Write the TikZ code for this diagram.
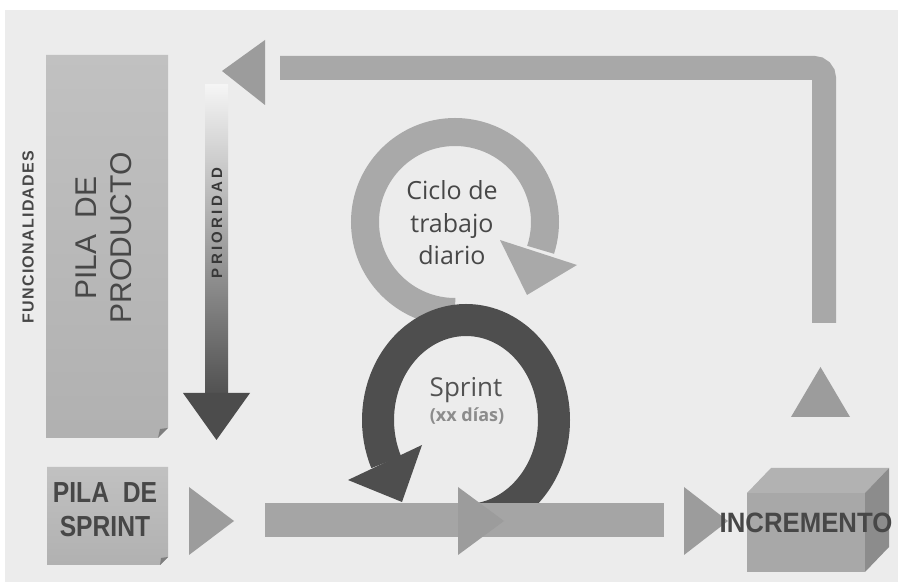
\documentclass[tikz,border=0pt]{standalone}
\usepackage{fontspec}
\setmainfont{Liberation Sans}
\newfontfamily\ringfont{Open Sans}
\usepackage{tikz}
\usetikzlibrary{positioning}

\definecolor{bgGray}{HTML}{ECECEC}
\definecolor{boxGray}{HTML}{BABABA}
\definecolor{foldGray}{HTML}{7E7E7E}
\definecolor{ringLight}{HTML}{A9A9A9}
\definecolor{ringDark}{HTML}{4E4E4E}
\definecolor{retGray}{HTML}{A8A8A8}
\definecolor{barGray}{HTML}{A5A5A5}
\definecolor{triGray}{HTML}{9C9C9C}
\definecolor{textDark}{HTML}{474747}

\tikzset{
  boxlabel/.style={text=textDark, font=\bfseries, align=center, inner sep=0pt},
  ringlabel/.style={text=textDark, font=\ringfont, align=center, inner sep=0pt},
  bigtri/.style={fill=triGray},
}

\begin{document}
\begin{tikzpicture}[x=1pt, y=1pt]
            \useasboundingbox (0,0) rectangle (898,587);
            \fill[white] (0,0) rectangle (898,587);
            \fill[bgGray] (5,5) rectangle (898,577);

            % pila de producto
            \shade[top color=boxGray!90!white, bottom color=boxGray!95!black]
                (46,532) -- (168,532) -- (168,159) -- (158,149) -- (46,149) -- cycle;
            \fill[foldGray] (158,149) -- (168,159) -- (160,158) -- cycle;
            \node[rotate=90, text=textDark, inner sep=0pt,
                  font=\fontsize{30}{35}\selectfont, align=center] at (103.5,349) (pilaProd) {PILA~~DE\\PRODUCTO};
            \node[rotate=90, boxlabel, font=\fontsize{16}{18}\bfseries\addfontfeature{LetterSpace=8}] at (28,350) (funcLbl) {FUNCIONALIDADES};

            % prioridad
            \shade[top color=white!96!black, middle color=black!35, bottom color=black!68]
                (205,194) rectangle (228,502);
            \fill[black!70] (183,194) -- (250,194) -- (216.5,147) -- cycle;
            \node[rotate=90, boxlabel, text=black!78, font=\fontsize{15}{17}\bfseries\addfontfeature{LetterSpace=22}] at (217,364) (prioLbl) {PRIORIDAD};

            % retorno del incremento
            \draw[retGray, line width=24, rounded corners=10] (824,264) -- (824,519) -- (280,519);
            \fill[triGray] (222,516) -- (265,547) -- (265,482) -- cycle;
            \fill[triGray] (791,170) -- (850,170) -- (820.5,220) -- cycle;

            % ciclo diario
            \draw[ringLight, line width=28] (455,275) arc[start angle=270, end angle=-18, radius=90];
            \fill[ringLight] (500,347) -- (577,322) -- (527,292) -- cycle;
            \node[ringlabel, font=\ringfont\fontsize{25}{32.5}\selectfont] at (452,364) (cicloLbl) {Ciclo de\\trabajo\\diario};

            % sprint
            \draw[ringDark, line width=32] (466,67) arc[start angle=-90, end angle=205, x radius=88, y radius=100];
            \fill[ringDark] (348,107) -- (422,142) -- (402,85) -- cycle;
            \node[ringlabel, text=black!68, font=\ringfont\fontsize{26}{30}\selectfont] at (466,197) (sprintLbl) {Sprint};
            \node[ringlabel, text=black!45, font=\ringfont\bfseries\fontsize{18}{20}\selectfont] at (467,171) (diasLbl) {(xx días)};

            % barra del sprint
            \fill[barGray] (265,50) rectangle (664,84);
            \fill[bigtri] (458,100) -- (504,66) -- (458,32) -- cycle;
            \fill[bigtri] (189,100) -- (234,66) -- (189,32) -- cycle;
            \fill[bigtri] (684,100) -- (728,66) -- (684,32) -- cycle;

            % pila de sprint
            \shade[top color=boxGray!90!white, bottom color=boxGray!95!black]
                (47,120) -- (168,120) -- (168,30) -- (160,22) -- (47,22) -- cycle;
            \fill[foldGray] (160,22) -- (168,30) -- (161,29) -- cycle;
            \node[boxlabel, xscale=0.85, font=\fontsize{29}{34}\bfseries] at (105,77.5) (pilaSprint) {PILA~~DE\\SPRINT};

            % incremento
            \fill[black!30] (747,94) -- (865,94) -- (889,119) -- (771,119) -- cycle;
            \fill[black!45] (865,94) -- (889,119) -- (889,40) -- (865,15) -- cycle;
            \fill[black!34] (747,15) rectangle (865,94);
            \node[boxlabel, xscale=0.92, font=\fontsize{28}{30}\bfseries] at (806,64) (incLbl) {INCREMENTO};
        \end{tikzpicture}
\end{document}
